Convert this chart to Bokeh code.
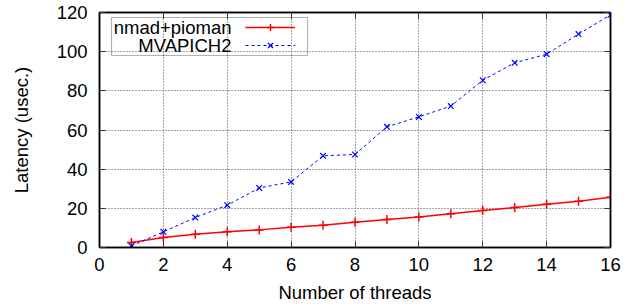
from bokeh.plotting import figure
from bokeh.models import (LinearAxis, SingleIntervalTicker, Legend, LegendItem,
                          BoxAnnotation, Label, Range1d, CustomLabelingPolicy)
from bokeh.embed import file_html
from bokeh.resources import INLINE

threads = [1, 2, 3, 4, 5, 6, 7, 8, 9, 10, 11, 12, 13, 14, 15, 16]
nmad_pioman = [2.5, 5.1, 6.8, 8.0, 9.0, 10.4, 11.4, 12.9, 14.3, 15.6, 17.2, 18.9, 20.4, 22.1, 23.6, 25.7]
mvapich2 = [0.8, 8.0, 15.3, 21.6, 30.4, 33.5, 46.8, 47.5, 61.6, 66.7, 72.2, 85.4, 94.3, 98.7, 109.0, 118.8]
series_names = ["nmad+pioman", "MVAPICH2"]
x_title = "Number of threads"
y_title = "Latency (usec.)"

FONT = "Liberation Sans"
FS = "18.5px"

p = figure(width=625, height=307, output_backend="svg", toolbar_location=None,
           x_range=Range1d(0, 16), y_range=Range1d(0, 120),
           min_border_left=99, min_border_right=15, min_border_top=12, min_border_bottom=60)
p.outline_line_color = "black"
p.outline_line_width = 1.5
p.background_fill_color = "white"
p.border_fill_color = "white"

xt = SingleIntervalTicker(interval=2)
yt = SingleIntervalTicker(interval=20)
p.xaxis.ticker = xt
p.yaxis.ticker = yt
for ax in (p.xaxis[0], p.yaxis[0]):
    ax.major_tick_in = 6
    ax.major_tick_out = 0
    ax.minor_tick_in = 0
    ax.minor_tick_out = 0
    ax.major_tick_line_color = "#333333"
    ax.axis_line_color = "black"
    ax.axis_line_width = 1.5
    ax.major_label_text_font = FONT
    ax.major_label_text_font_size = FS
    ax.major_label_text_color = "black"
    ax.axis_label_text_font = FONT
    ax.axis_label_text_font_size = FS
    ax.axis_label_text_font_style = "normal"
    ax.axis_label_text_color = "black"
p.yaxis.major_label_standoff = 12
p.xaxis.major_label_standoff = 10
p.xaxis.axis_label = x_title
p.yaxis.axis_label = y_title
p.xaxis.axis_label_standoff = 8
p.yaxis.axis_label_standoff = 22

# mirrored ticks on top and right (labels hidden)
hide_all = CustomLabelingPolicy(code="""
const all = [...indices]
for (const i of all) indices.unset(i)
return indices
""")
for loc in ("above", "right"):
    ax = LinearAxis(ticker=xt if loc == "above" else yt)
    ax.major_tick_in = 6
    ax.major_tick_out = 0
    ax.minor_tick_in = 0
    ax.minor_tick_out = 0
    ax.major_tick_line_color = "#333333"
    ax.axis_line_color = "black"
    ax.axis_line_width = 1.5
    ax.major_label_text_font_size = "6px"
    ax.major_label_standoff = 0
    ax.major_label_policy = hide_all
    p.add_layout(ax, loc)

p.xgrid.grid_line_color = "#444444"
p.ygrid.grid_line_color = "#444444"
p.xgrid.grid_line_dash = "1 2"
p.ygrid.grid_line_dash = "1 2"
p.xgrid.grid_line_width = 1
p.ygrid.grid_line_width = 1

r1l = p.line(threads, nmad_pioman, line_color="#ff0000", line_width=1.5)
r1m = p.scatter(threads, nmad_pioman, marker="cross", size=9, line_color="#ff0000", line_width=1.5)
r2l = p.line(threads, mvapich2, line_color="#0000ff", line_width=1, line_dash="3 3")
r2m = p.scatter(threads, mvapich2, marker="x", size=8, line_color="#0000ff", line_width=1.2)

# legend box (gnuplot style: text on the left, sample on the right)
box = BoxAnnotation(left=12, right=208, top=230, bottom=192,
                    left_units="screen", right_units="screen", top_units="screen", bottom_units="screen",
                    fill_alpha=0, line_color="black", line_width=1.2)
p.add_layout(box)
for i, name in enumerate(series_names):
    p.add_layout(Label(x=132, y=220 - 18 * i, x_units="screen", y_units="screen", text=name,
                       text_align="right", text_baseline="middle",
                       text_font=FONT, text_font_size=FS, text_color="black"))

legend = Legend(items=[LegendItem(label=" ", renderers=[r1l, r1m]),
                       LegendItem(label=" ", renderers=[r2l, r2m])],
                location=(146, 193), padding=0, margin=0, spacing=0,
                glyph_width=50, glyph_height=18, label_height=18, label_width=1,
                label_standoff=0, label_text_font_size="1px",
                border_line_alpha=0, background_fill_alpha=0)
p.add_layout(legend)

open("out.html", "w").write(file_html(p, INLINE))
